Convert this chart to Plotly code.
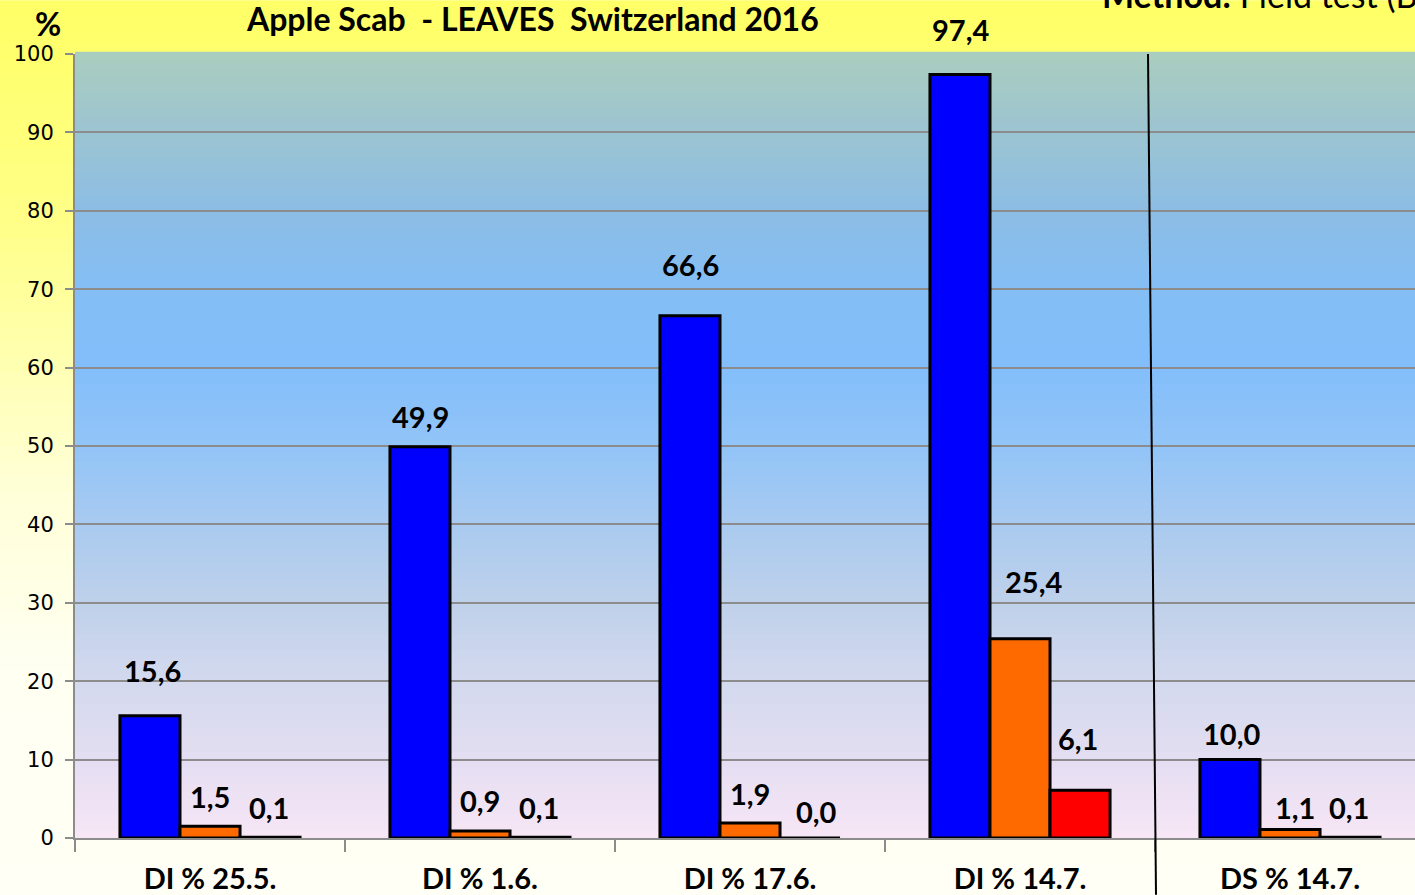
import plotly.graph_objects as go

# ---------------- data ----------------
categories = ["DI % 25.5.", "DI % 1.6.", "DI % 17.6.", "DI % 14.7.", "DS % 14.7."]
series1 = [15.6, 49.9, 66.6, 97.4, 10.0]   # blue
series2 = [1.5, 0.9, 1.9, 25.4, 1.1]       # orange
series3 = [0.1, 0.1, 0.0, 6.1, 0.1]        # red
y_ticks = [0, 10, 20, 30, 40, 50, 60, 70, 80, 90, 100]

# ---------------- styling ----------------
series_colors = ["#0000FF", "#FF6A00", "#FF0000"]
label_dy = [[45, 30, 51, 45, 26], [30, 30, 30, 57, 22], [30, 30, 27, 52, 30]]
label_dx = [[2, 0, 0, 0, 1], [0, 0, 0, 13, 5], [-1, -1, 7, -2, -1]]
FONT_BOLD = "Lato, 'Open Sans', sans-serif"

W, H = 1415, 895
L, R, T, B = 75, 0, 54, 55
pw, ph = W - L - R, H - T - B


def px_x(p):
    return (p - L) / pw


def px_y(p):
    return (H - B - p) / ph


def hex2rgb(h):
    h = h.lstrip("#")
    return tuple(int(h[i:i + 2], 16) for i in (0, 2, 4))


def interp(stops, t):
    for (t0, c0), (t1, c1) in zip(stops, stops[1:]):
        if t0 <= t <= t1:
            f = 0 if t1 == t0 else (t - t0) / (t1 - t0)
            a, b = hex2rgb(c0), hex2rgb(c1)
            return "rgb(%d,%d,%d)" % tuple(round(a[i] + (b[i] - a[i]) * f) for i in range(3))
    return stops[-1][1]


fig = go.Figure()
series = [series1, series2, series3]
for k, vals in enumerate(series):
    fig.add_trace(go.Bar(
        x=categories, y=vals, marker=dict(color=series_colors[k], line=dict(color="black", width=3)),
        showlegend=False, hoverinfo="skip",
    ))

shapes = []
# paper gradient (yellow top to cream bottom)
paper_stops = [(0.0, "#FFFF66"), (0.25, "#FFFF88"), (0.55, "#FFFFD8"), (0.75, "#FFFFF2"), (1.0, "#FFFFF5")]
n = 60
for i in range(n):
    p0, p1 = H * i / n, H * (i + 1) / n + 1
    shapes.append(dict(type="rect", xref="paper", yref="paper", x0=px_x(0), x1=px_x(W + 2),
                       y0=px_y(p1), y1=px_y(p0), line=dict(width=0),
                       fillcolor=interp(paper_stops, (i + 0.5) / n), layer="below"))
# plot area gradient (value 100 at top -> 0 at bottom)
plot_stops = [(0.0, "#F7E6F6"), (0.1, "#E4DEF2"), (0.2, "#D3D9EE"), (0.3, "#BFD1EA"), (0.4, "#A9CAF0"),
              (0.5, "#92C4F7"), (0.6, "#83BEFB"), (0.7, "#84BEF5"), (0.8, "#8CBDE4"), (0.9, "#9CC4D2"),
              (1.0, "#AACDBE")]
m = 100
for i in range(m):
    shapes.append(dict(type="rect", xref="x domain", yref="y domain", x0=0, x1=1,
                       y0=i / m, y1=(i + 1) / m + 0.003, line=dict(width=0),
                       fillcolor=interp(plot_stops, (i + 0.5) / m), layer="below"))
# separator line
shapes.append(dict(type="line", xref="paper", yref="paper", x0=px_x(1148), y0=px_y(54),
                   x1=px_x(1156), y1=px_y(H + 2), line=dict(color="black", width=2), layer="above"))

annotations = []
bw = 0.2222
for k, vals in enumerate(series):
    for i, v in enumerate(vals):
        annotations.append(dict(x=i + (k - 1) * bw, y=v, xref="x", yref="y",
                                text=("%.1f" % v).replace(".", ","), showarrow=False,
                                yanchor="middle", xanchor="center",
                                yshift=label_dy[k][i], xshift=label_dx[k][i],
                                font=dict(family=FONT_BOLD, size=29, color="black", weight="bold")))

annotations.append(dict(x=px_x(532), y=px_y(18), xref="paper", yref="paper", showarrow=False,
                        text="Apple Scab  - LEAVES  Switzerland 2016", xanchor="center", yanchor="middle",
                        font=dict(family=FONT_BOLD, size=32, color="black", weight="bold")))
annotations.append(dict(x=px_x(48), y=px_y(23), xref="paper", yref="paper", showarrow=False,
                        text="%", xanchor="center", yanchor="middle",
                        font=dict(family=FONT_BOLD, size=32, color="black", weight="bold")))
annotations.append(dict(x=px_x(1100), y=px_y(-6), xref="paper", yref="paper", showarrow=False,
                        text="<b>Method:</b> Field test (Bio", xanchor="left", yanchor="middle",
                        font=dict(family=FONT_BOLD, size=34, color="black")))

fig.update_layout(
    width=W, height=H,
    margin=dict(l=L, r=R, t=T, b=B, pad=0),
    paper_bgcolor="#FFFFF5", plot_bgcolor="rgba(0,0,0,0)",
    barmode="group", bargap=0.333, bargroupgap=0,
    shapes=shapes, annotations=annotations, showlegend=False,
    xaxis=dict(type="category", range=[-0.5, -0.5 + pw / 270.0], tickson="boundaries",
               ticks="outside", ticklen=12, tickwidth=1.5, tickcolor="#8C8C8C",
               showline=True, linecolor="#8C8C8C", linewidth=2, showgrid=False,
               tickfont=dict(family=FONT_BOLD, size=29, color="black", weight="bold"),
               ticklabelstandoff=14, fixedrange=True),
    yaxis=dict(range=[0, 100], tickvals=y_ticks, ticks="outside", ticklen=8, tickwidth=1.5,
               tickcolor="#8C8C8C", showline=True, linecolor="#8C8C8C", linewidth=2,
               showgrid=True, gridcolor="#8C8C8C", gridwidth=1.5, zeroline=False,
               tickfont=dict(family="'DejaVu Sans', sans-serif", size=21, color="black"),
               ticklabelstandoff=7, fixedrange=True),
)

fig.write_html("out.html", config={"displayModeBar": False},
               post_script="document.body.style.margin='0px';document.body.style.overflow='hidden';")
